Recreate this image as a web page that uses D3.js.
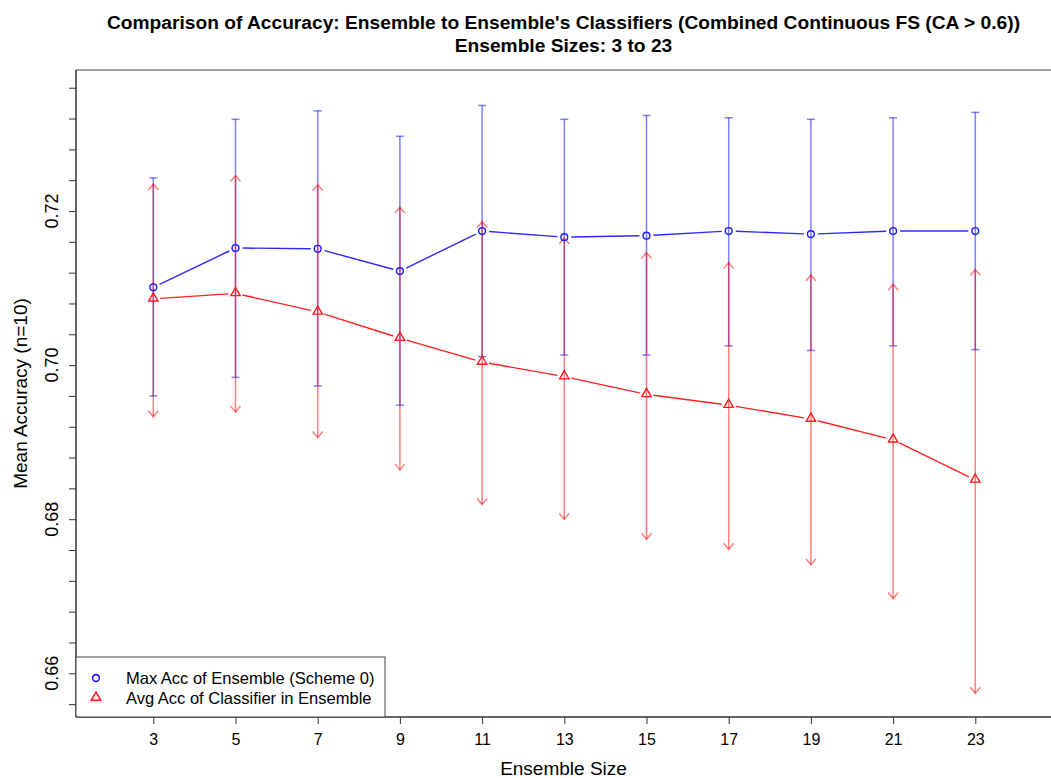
<!DOCTYPE html>
<html>
<head>
<meta charset="utf-8">
<script src="https://cdn.jsdelivr.net/npm/d3@7"></script>
<style>
  body { margin: 0; background: #fff; }
  text { font-family: "Liberation Sans", Arial, Helvetica, sans-serif; fill: #000; }
</style>
</head>
<body>
<div id="chart"></div>
<script>
// ensemble sizes on the x axis
var sizes = [3, 5, 7, 9, 11, 13, 15, 17, 19, 21, 23];

// Max Acc of Ensemble (Scheme 0): mean and bar ends
var maxAcc = [0.7101, 0.7152, 0.7151, 0.7122, 0.7174, 0.7166, 0.7168, 0.7174, 0.7170, 0.7174, 0.7174];
var maxLo  = [0.6960, 0.6984, 0.6973, 0.6948, 0.7011, 0.7013, 0.7013, 0.7025, 0.7019, 0.7025, 0.7020];
var maxHi  = [0.7243, 0.7319, 0.7330, 0.7297, 0.7337, 0.7319, 0.7324, 0.7321, 0.7319, 0.7321, 0.7328];

// Avg Acc of Classifier in Ensemble: mean and bar ends
var avgAcc = [0.7086, 0.7093, 0.7069, 0.7035, 0.7004, 0.6985, 0.6962, 0.6948, 0.6930, 0.6903, 0.6851];
var avgLo  = [0.6933, 0.6939, 0.6906, 0.6864, 0.6819, 0.6800, 0.6774, 0.6761, 0.6741, 0.6697, 0.6574];
var avgHi  = [0.7235, 0.7246, 0.7234, 0.7205, 0.7186, 0.7165, 0.7146, 0.7133, 0.7117, 0.7105, 0.7124];

var yLabels = [0.66, 0.68, 0.70, 0.72];
var legendNames = ["Max Acc of Ensemble (Scheme 0)", "Avg Acc of Classifier in Ensemble"];

var width = 1051, height = 778;
// plot box (note: "top" is taken by window.top, so prefix these)
var mLeft = 76, mTop = 70, mRight = 1051, mBottom = 717;

var svg = d3.select("#chart").append("svg")
    .attr("width", width)
    .attr("height", height);

var x = d3.scaleLinear().domain([3, 23]).range([153.3, 975.3]);
var y = d3.scaleLinear().domain([0.66, 0.72]).range([673.3, 211]);

// title
svg.append("text")
    .attr("x", (mLeft + mRight) / 2).attr("y", 29)
    .attr("text-anchor", "middle")
    .style("font-size", "19.2px").style("font-weight", "bold")
    .text("Comparison of Accuracy: Ensemble to Ensemble's Classifiers (Combined Continuous FS (CA > 0.6))");
svg.append("text")
    .attr("x", (mLeft + mRight) / 2).attr("y", 52)
    .attr("text-anchor", "middle")
    .style("font-size", "19.2px").style("font-weight", "bold")
    .text("Ensemble Sizes: 3 to 23");

// axes
var yAxis = d3.axisLeft(y)
    .tickValues(d3.range(0.656, 0.7365, 0.004))
    .tickSize(7)
    .tickFormat("");
var gy = svg.append("g").attr("transform", "translate(" + mLeft + ",0)").call(yAxis);
gy.select(".domain").remove();
gy.selectAll("line").attr("stroke", "#333");

svg.selectAll(".ylab")
    .data(yLabels)
    .enter().append("text")
    .attr("class", "ylab")
    .attr("transform", function (d) { return "translate(58," + y(d) + ") rotate(-90)"; })
    .attr("text-anchor", "middle")
    .style("font-size", "18px")
    .text(function (d) { return d.toFixed(2); });

var xAxis = d3.axisBottom(x).tickValues(sizes).tickSize(7).tickPadding(10);
var gx = svg.append("g").attr("transform", "translate(0," + mBottom + ")").call(xAxis);
gx.select(".domain").remove();
gx.selectAll("line").attr("stroke", "#333");
gx.selectAll("text").style("font-size", "16px").style("font-family", "Liberation Sans, Arial, sans-serif");

svg.append("line").attr("x1", mLeft).attr("x2", mRight).attr("y1", mTop).attr("y2", mTop)
    .attr("stroke", "#a0a0a0").attr("stroke-width", 2);
svg.append("line").attr("x1", mLeft).attr("x2", mLeft).attr("y1", mTop).attr("y2", mBottom)
    .attr("stroke", "#333").attr("stroke-width", 1.5);
svg.append("line").attr("x1", mLeft).attr("x2", mRight).attr("y1", mBottom).attr("y2", mBottom)
    .attr("stroke", "#333").attr("stroke-width", 1.5);

svg.append("text")
    .attr("x", (mLeft + mRight) / 2).attr("y", 775)
    .attr("text-anchor", "middle")
    .style("font-size", "19px")
    .text("Ensemble Size");
svg.append("text")
    .attr("transform", "translate(27," + (mTop + mBottom) / 2 + ") rotate(-90)")
    .attr("text-anchor", "middle")
    .style("font-size", "19px")
    .text("Mean Accuracy (n=10)");

var plot = svg.append("g");

// error bars
function drawBars(lo, hi, color, cap) {
    var g = plot.append("g");
    sizes.forEach(function (s, i) {
        var cx = x(s), y0 = y(lo[i]), y1 = y(hi[i]);
        g.append("line")
            .attr("x1", cx).attr("x2", cx).attr("y1", y0).attr("y2", y1)
            .attr("stroke", color).attr("stroke-width", 1.5);
        if (cap == "flat") {
            g.append("line").attr("x1", cx - 4).attr("x2", cx + 4).attr("y1", y1).attr("y2", y1)
                .attr("stroke", color).attr("stroke-width", 1.5);
            g.append("line").attr("x1", cx - 4).attr("x2", cx + 4).attr("y1", y0).attr("y2", y0)
                .attr("stroke", color).attr("stroke-width", 1.5);
        } else {
            g.append("path")
                .attr("d", "M" + (cx - 5) + "," + (y1 + 6) + "L" + cx + "," + y1 + "L" + (cx + 5) + "," + (y1 + 6))
                .attr("fill", "none").attr("stroke", color).attr("stroke-width", 1.5);
            g.append("path")
                .attr("d", "M" + (cx - 5) + "," + (y0 - 6) + "L" + cx + "," + y0 + "L" + (cx + 5) + "," + (y0 - 6))
                .attr("fill", "none").attr("stroke", color).attr("stroke-width", 1.5);
        }
    });
}

drawBars(maxLo, maxHi, "rgba(0,0,255,0.5)", "flat");
drawBars(avgLo, avgHi, "rgba(255,0,0,0.5)", "arrow");

// connecting lines with a gap round each point (type = "b")
function drawLine(vals, color) {
    var gap = 7;
    for (var i = 0; i < sizes.length - 1; i++) {
        var x0 = x(sizes[i]), y0 = y(vals[i]), x1 = x(sizes[i + 1]), y1 = y(vals[i + 1]);
        var len = Math.sqrt((x1 - x0) * (x1 - x0) + (y1 - y0) * (y1 - y0));
        var ux = (x1 - x0) / len, uy = (y1 - y0) / len;
        plot.append("line")
            .attr("x1", x0 + ux * gap).attr("y1", y0 + uy * gap)
            .attr("x2", x1 - ux * gap).attr("y2", y1 - uy * gap)
            .attr("stroke", color).attr("stroke-width", 1.4);
    }
}

drawLine(maxAcc, "#2b2bff");
drawLine(avgAcc, "#ff2020");

plot.selectAll(".pmax")
    .data(sizes)
    .enter().append("circle")
    .attr("class", "pmax")
    .attr("cx", function (d) { return x(d); })
    .attr("cy", function (d, i) { return y(maxAcc[i]); })
    .attr("r", 3.4)
    .attr("fill", "none").attr("stroke", "#1a1aff").attr("stroke-width", 1.4);

var tri = d3.symbol().type(d3.symbolTriangle).size(38);
plot.selectAll(".pavg")
    .data(sizes)
    .enter().append("path")
    .attr("class", "pavg")
    .attr("transform", function (d, i) { return "translate(" + x(d) + "," + (y(avgAcc[i]) - 0.5) + ")"; })
    .attr("d", tri)
    .attr("fill", "none").attr("stroke", "#ff1a1a").attr("stroke-width", 1.4);

// legend
var lg = svg.append("g");
lg.append("rect")
    .attr("x", mLeft).attr("y", 657).attr("width", 309).attr("height", mBottom - 657)
    .attr("fill", "#fff").attr("stroke", "#444").attr("stroke-width", 1);
lg.append("circle").attr("cx", 96).attr("cy", 678).attr("r", 3.4)
    .attr("fill", "none").attr("stroke", "#1a1aff").attr("stroke-width", 1.6);
lg.append("path").attr("transform", "translate(96,697.5)").attr("d", tri)
    .attr("fill", "none").attr("stroke", "#ff1a1a").attr("stroke-width", 1.6);
lg.selectAll(".ltext")
    .data(legendNames)
    .enter().append("text")
    .attr("class", "ltext")
    .attr("x", 126)
    .attr("y", function (d, i) { return 684 + i * 20; })
    .style("font-size", "16.5px")
    .text(function (d) { return d; });
</script>
</body>
</html>
